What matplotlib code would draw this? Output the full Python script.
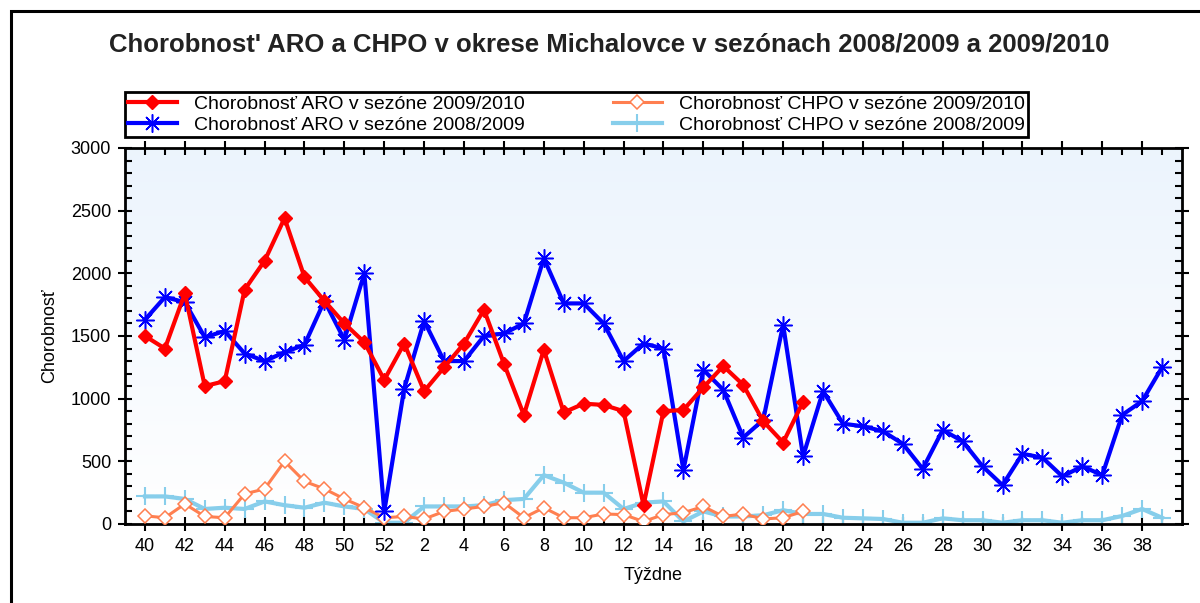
import numpy as np
import matplotlib
matplotlib.use("Agg")
import matplotlib.pyplot as plt
from matplotlib.patches import Rectangle

# weeks of the season: 40..52, then 1..39
weeks = list(range(40, 53)) + list(range(1, 40))

aro_0910 = [1500, 1400, 1840, 1100, 1140, 1870, 2100, 2440, 1970, 1780, 1600, 1450, 1150,
            1440, 1060, 1250, 1440, 1710, 1280, 870, 1390, 890, 960, 950, 900, 150,
            900, 910, 1090, 1260, 1110, 820, 650, 975]
aro_0809 = [1630, 1810, 1770, 1490, 1540, 1360, 1300, 1370, 1430, 1780, 1470, 2000, 100,
            1080, 1620, 1300, 1300, 1500, 1520, 1600, 2120, 1760, 1760, 1600, 1300, 1440,
            1400, 430, 1230, 1070, 690, 830, 1590, 540, 1060, 800, 780, 740, 640,
            440, 750, 660, 460, 310, 560, 530, 380, 460, 390, 870, 980, 1250]
chpo_0910 = [65, 50, 160, 60, 50, 240, 280, 500, 340, 280, 200, 130, 50,
             60, 40, 100, 120, 140, 170, 50, 130, 50, 50, 80, 75, 20,
             75, 90, 140, 60, 80, 40, 50, 100]
chpo_0809 = [220, 220, 200, 120, 130, 120, 180, 150, 130, 170, 140, 120, 10,
             10, 140, 140, 140, 150, 190, 200, 390, 330, 250, 250, 120, 170,
             180, 20, 100, 60, 60, 70, 110, 80, 80, 50, 45, 40, 10,
             10, 45, 30, 30, 10, 30, 30, 10, 30, 30, 64, 120, 50]

labels = ["Chorobnosť ARO v sezóne 2009/2010", "Chorobnosť ARO v sezóne 2008/2009",
          "Chorobnosť CHPO v sezóne 2009/2010", "Chorobnosť CHPO v sezóne 2008/2009"]

plt.rcParams['font.family'] = ['Liberation Sans', 'DejaVu Sans']

fig = plt.figure(figsize=(12, 6.03), dpi=100)
ax = fig.add_axes([125/1200, 1-524/603, (1182-125)/1200, (524-148)/603])

# frame around the figure
fig.patches.append(Rectangle((11/1200, -0.1), 1.2, 1-11/603+0.1, transform=fig.transFigure,
                             fill=False, edgecolor='black', linewidth=2.2))

# background gradient
grad = np.linspace(1, 0, 256).reshape(-1, 1)
top = np.array([0.925, 0.957, 0.992])
img = (top[None, None, :] * grad[:, :, None] + np.ones(3)[None, None, :] * (1 - grad[:, :, None]))
ax.imshow(img, extent=[-1, 52, 0, 3000], aspect='auto', zorder=0)

x0910 = np.arange(len(aro_0910))
x0809 = np.arange(len(aro_0809))

l1, = ax.plot(x0910, aro_0910, color='#ff0000', lw=3, marker='D', ms=7.5, zorder=5)
l2, = ax.plot(x0809, aro_0809, color='#0000ff', lw=3, marker=(8, 2, 0), ms=13, mew=1.1, zorder=4)
l3, = ax.plot(x0910, chpo_0910, color='#ff7f50', lw=2.2, marker='D', ms=7.5, mfc='white', mew=1.1, zorder=3)
l4, = ax.plot(x0809, chpo_0809, color='#87ceeb', lw=3, marker='+', ms=13, mew=1.5, zorder=2)

ax.set_xlim(-1, 52)
ax.set_ylim(0, 3000)

ax.set_xticks(np.arange(0, 52, 2))
ax.set_xticklabels([str(weeks[i]) for i in range(0, 52, 2)])
ax.set_xticks(np.arange(1, 52, 2), minor=True)
ax.set_yticks(np.arange(0, 3001, 500))
ax.set_yticks(np.arange(0, 3001, 100), minor=True)
ax.tick_params(which='major', direction='inout', length=10, width=1.5, labelsize=13,
               top=True, right=True, pad=5)
ax.tick_params(which='minor', direction='in', length=5, width=1.5, top=True, right=True)
for s in ax.spines.values():
    s.set_linewidth(2)

ax.set_xlabel("Týždne", fontsize=13, labelpad=9)
ax.set_ylabel("Chorobnosť", fontsize=13, labelpad=9)

fig.text(0.508, 1-45/603, "Chorobnost' ARO a CHPO v okrese Michalovce v sezónach 2008/2009 a 2009/2010",
         ha='center', va='center', fontsize=18.5, fontweight='bold', color='#222222')

leg = fig.legend([l1, l2, l3, l4], labels, ncol=2, loc='lower left',
                 bbox_to_anchor=(125/1200, 1-137/603, (1028-125)/1200, 50/603),
                 mode='expand', fancybox=False, framealpha=1, edgecolor='black',
                 prop={'size': 14},
                 handlelength=2.5, borderpad=0.15, labelspacing=0.2, columnspacing=2,
                 handletextpad=0.9, borderaxespad=0)
leg.get_frame().set_linewidth(2)

fig.savefig("out.png", dpi=100)
